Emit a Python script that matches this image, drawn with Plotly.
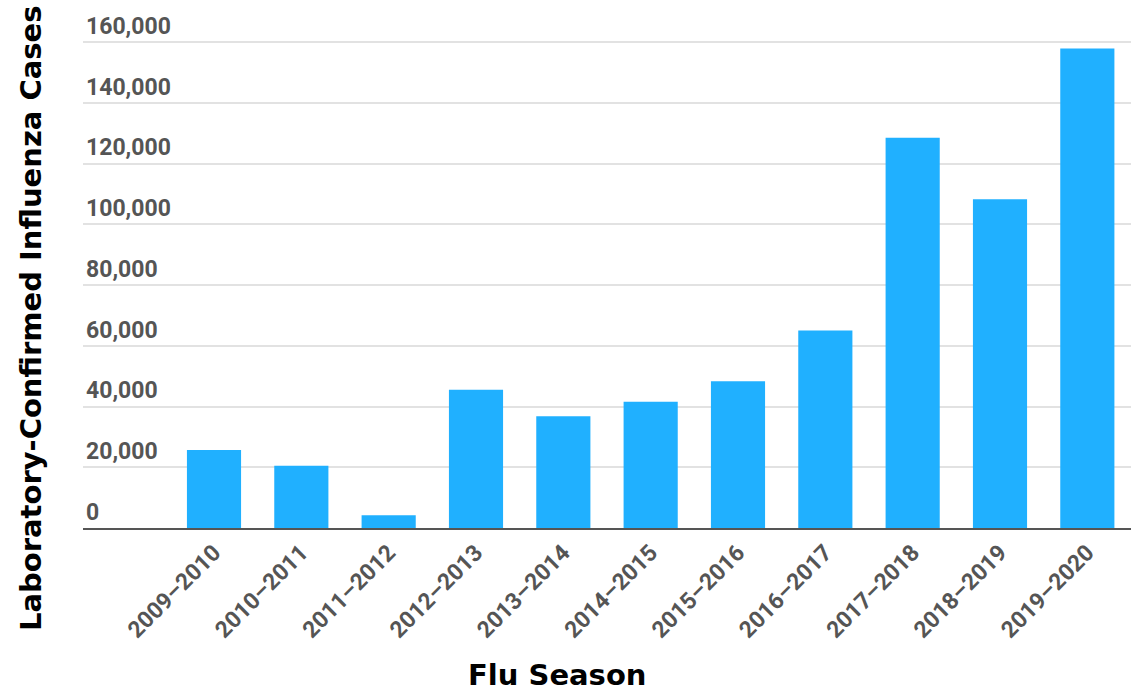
import plotly.graph_objects as go

# Flu seasons and laboratory-confirmed influenza case counts
seasons = ["2009–2010", "2010–2011", "2011–2012", "2012–2013", "2013–2014",
           "2014–2015", "2015–2016", "2016–2017", "2017–2018", "2018–2019",
           "2019–2020"]
cases = [25700, 20500, 4200, 45500, 36800, 41600, 48300, 65000, 128500, 108200, 157900]

y_ticks = [0, 20000, 40000, 60000, 80000, 100000, 120000, 140000, 160000]
y_tick_labels = ["0", "20,000", "40,000", "60,000", "80,000", "100,000",
                 "120,000", "140,000", "160,000"]

fig = go.Figure(
    go.Bar(
        x=list(range(len(seasons))),
        y=cases,
        marker=dict(color="#20b0ff", line=dict(width=0)),
        hoverinfo="skip",
    )
)

fig.update_layout(
    width=1131,
    height=692,
    margin=dict(l=83, r=0, t=5, b=164),
    paper_bgcolor="white",
    plot_bgcolor="white",
    bargap=0.38,
    showlegend=False,
    font=dict(family="Roboto", color="#555555"),
)

fig.update_xaxes(
    range=[-1.5, 10.5],
    tickmode="array",
    tickvals=list(range(len(seasons))),
    ticktext=seasons,
    tickangle=-45,
    tickfont=dict(family="Roboto", size=23, color="#555555", weight="bold"),
    showgrid=False,
    showline=True,
    linecolor="#555555",
    linewidth=2,
    ticks="",
    zeroline=False,
)

fig.update_yaxes(
    range=[0, 172180],
    tickmode="array",
    tickvals=y_ticks,
    ticktext=y_tick_labels,
    ticklabelposition="inside top",
    tickfont=dict(family="Roboto", size=23, color="#555555", weight="bold"),
    showgrid=True,
    gridcolor="#e2e2e2",
    gridwidth=1.5,
    zeroline=False,
    ticks="",
    showline=False,
)

# Axis titles
plot_h = 692 - 5 - 164
fig.add_annotation(
    text="Flu Season",
    xref="paper", yref="paper",
    x=(557 - 83) / (1131 - 83), y=0,
    yshift=-147,
    showarrow=False,
    font=dict(family="DejaVu Sans", size=29, color="black", weight="bold"),
    xanchor="center", yanchor="middle",
)
fig.add_annotation(
    text="Laboratory-Confirmed Influenza Cases",
    xref="paper", yref="paper",
    x=0, y=(528 - 318) / plot_h,
    xshift=-52,
    textangle=-90,
    showarrow=False,
    font=dict(family="DejaVu Sans", size=29, color="black", weight="bold"),
    xanchor="center", yanchor="middle",
)

fig.write_html("out.html")
